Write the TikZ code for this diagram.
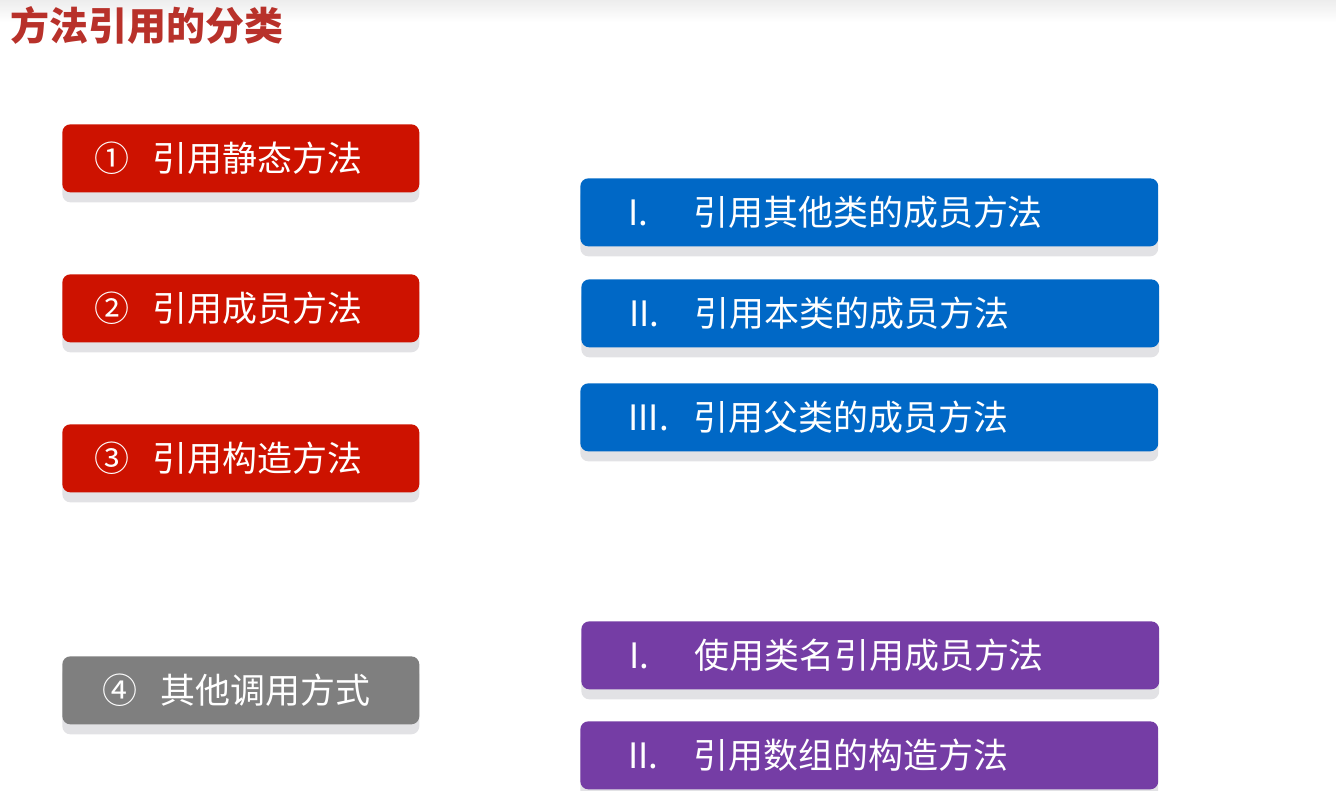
\documentclass[tikz,border=0pt]{standalone}
\usepackage{fontspec}
\setmainfont{Noto Sans CJK SC}
\usetikzlibrary{shadows}
\definecolor{titlered}{HTML}{B8312A}
\definecolor{catred}{HTML}{CD1200}
\definecolor{catgray}{HTML}{7F7F7F}
\definecolor{subblue}{HTML}{0068C6}
\definecolor{subpurple}{HTML}{753DA5}
\definecolor{shadowgray}{HTML}{E2E2E5}
\newcommand{\tagw}[2]{\makebox[#1][l]{#2}}

\begin{document}
\begin{tikzpicture}[
        x=0.02cm, y=-0.02cm,
        card/.style={rounded corners=0.16cm, text=white, font=\fontsize{19.9pt}{22pt}\selectfont,
            anchor=north west, minimum height=1.36cm, align=left,
            general shadow={fill=shadowgray, shadow yshift=-0.2cm}},
        catbox/.style={card, fill=catred, inner xsep=0.65cm, text width=5.84cm},
        otherbox/.style={card, fill=catgray, inner xsep=0.81cm, text width=5.52cm},
        subbox/.style={card, fill=subblue, inner xsep=0.96cm, text width=9.64cm},
        namebox/.style={card, fill=subpurple, inner xsep=0.96cm, text width=9.64cm}
    ]
\useasboundingbox (0,0) rectangle (1336,791);

% Faint band along the top edge
\shade[top color=black!7, bottom color=white, draw=none] (0,0) rectangle (1336,22);

% Title
\node[anchor=west, text=titlered, font=\fontsize{22.2pt}{24pt}\selectfont\bfseries, inner sep=0pt] (title) at (10,25) {方法引用的分类};

% Main categories
\node[catbox] (C1) at (62,124) {\tagw{1.15cm}{①}引用静态方法};
\node[catbox] (C2) at (62,274) {\tagw{1.15cm}{②}引用成员方法};
\node[catbox] (C3) at (62,424) {\tagw{1.15cm}{③}引用构造方法};
\node[otherbox] (C4) at (62,656) {\tagw{1.15cm}{④}其他调用方式};

% Kinds of member method references
\node[subbox] (M1) at (580,178) {\tagw{1.3cm}{I.}引用其他类的成员方法};
\node[subbox] (M2) at (581,279) {\tagw{1.3cm}{II.}引用本类的成员方法};
\node[subbox] (M3) at (580,383) {\tagw{1.3cm}{III.}引用父类的成员方法};

% Other ways of calling
\node[namebox] (O1) at (581,621) {\tagw{1.3cm}{I.}使用类名引用成员方法};
\node[namebox] (O2) at (580,721) {\tagw{1.3cm}{II.}引用数组的构造方法};
\end{tikzpicture}
\end{document}
